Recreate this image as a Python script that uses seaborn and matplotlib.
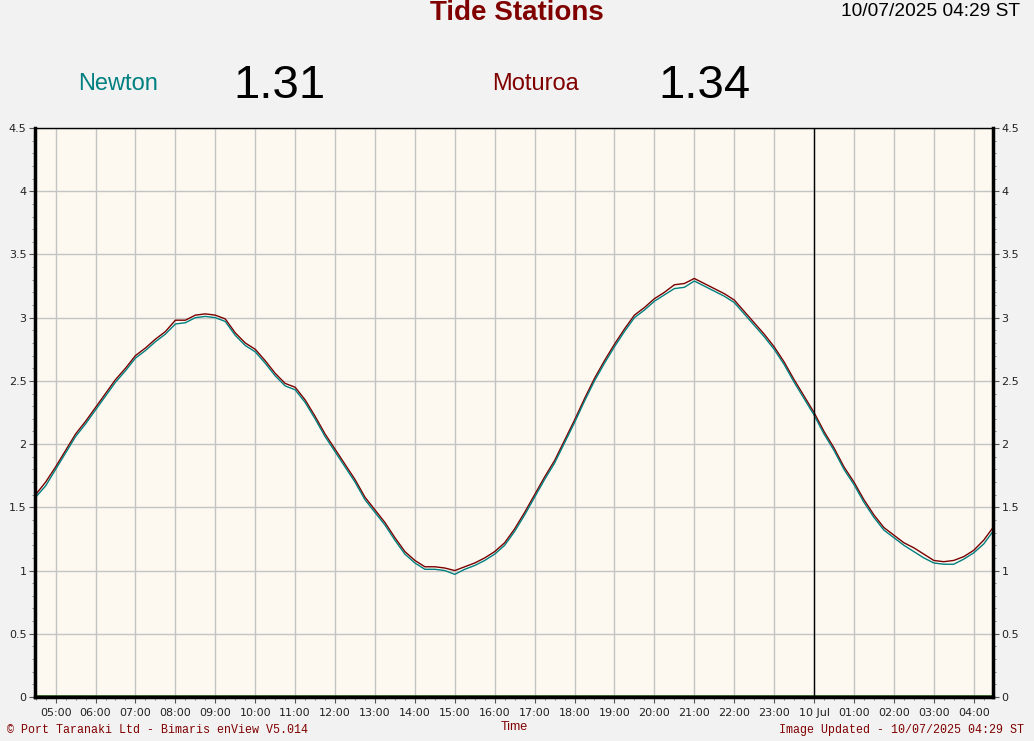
import pandas as pd
import numpy as np
import matplotlib
matplotlib.use("Agg")
import matplotlib.pyplot as plt
import matplotlib.dates as mdates
from matplotlib.ticker import MultipleLocator, FuncFormatter
import seaborn as sns

# readings every 15 minutes, 09 Jul 04:30 -> 10 Jul 04:15, then 04:29
times = list(pd.date_range("2025-07-09 04:30", "2025-07-10 04:15", freq="15min")) + [pd.Timestamp("2025-07-10 04:29")]

moturoa = [1.60, 1.70, 1.82, 1.95, 2.08, 2.18, 2.29, 2.40, 2.51, 2.60, 2.70, 2.76,
           2.83, 2.89, 2.98, 2.98, 3.02, 3.03, 3.02, 2.99, 2.88, 2.80, 2.75, 2.66,
           2.56, 2.48, 2.45, 2.35, 2.22, 2.08, 1.96, 1.84, 1.72, 1.58, 1.48, 1.38,
           1.26, 1.15, 1.08, 1.03, 1.03, 1.02, 1.00, 1.03, 1.06, 1.10, 1.15, 1.22,
           1.33, 1.46, 1.60, 1.74, 1.87, 2.03, 2.19, 2.36, 2.52, 2.66, 2.79, 2.91,
           3.02, 3.08, 3.15, 3.20, 3.26, 3.27, 3.31, 3.27, 3.23, 3.19, 3.14, 3.05,
           2.96, 2.87, 2.77, 2.65, 2.51, 2.38, 2.25, 2.10, 1.97, 1.82, 1.70, 1.56,
           1.44, 1.34, 1.28, 1.22, 1.18, 1.13, 1.08, 1.07, 1.08, 1.11, 1.16, 1.24,
           1.34]

newton = [1.58, 1.67, 1.80, 1.93, 2.06, 2.16, 2.27, 2.38, 2.49, 2.58, 2.68, 2.74,
          2.81, 2.87, 2.95, 2.96, 3.00, 3.01, 3.00, 2.97, 2.86, 2.78, 2.73, 2.64,
          2.54, 2.46, 2.43, 2.33, 2.20, 2.06, 1.94, 1.82, 1.70, 1.56, 1.46, 1.36,
          1.24, 1.13, 1.06, 1.01, 1.01, 1.00, 0.97, 1.01, 1.04, 1.08, 1.13, 1.20,
          1.31, 1.44, 1.58, 1.72, 1.85, 2.01, 2.17, 2.34, 2.50, 2.64, 2.77, 2.89,
          3.00, 3.06, 3.13, 3.18, 3.23, 3.24, 3.29, 3.25, 3.21, 3.17, 3.12, 3.03,
          2.94, 2.85, 2.75, 2.63, 2.49, 2.36, 2.23, 2.08, 1.95, 1.80, 1.68, 1.54,
          1.42, 1.32, 1.26, 1.20, 1.15, 1.10, 1.06, 1.05, 1.05, 1.09, 1.14, 1.21,
          1.31]

other = [0.01] * len(times)

df = pd.DataFrame({"time": times, "Moturoa": moturoa, "Newton": newton, "Other": other})

start = pd.Timestamp("2025-07-09 04:29")
end = pd.Timestamp("2025-07-10 04:29")
midnight = pd.Timestamp("2025-07-10 00:00")

fig = plt.figure(figsize=(10.34, 7.41), dpi=100, facecolor="#f2f2f2")
ax = fig.add_axes([35 / 1034, 44 / 741, 958 / 1034, 569 / 741])
ax.set_facecolor("#fdf9f0")

ax.grid(True, color="#c4c4c4", lw=1, zorder=0)
ax.set_axisbelow(True)

sns.lineplot(data=df, x="time", y="Other", color="#2d6a1b", lw=1.2, ax=ax, clip_on=False)
sns.lineplot(data=df, x="time", y="Moturoa", color="#7a0000", lw=1, ax=ax)
sns.lineplot(data=df, x="time", y="Newton", color="#007f7f", lw=1, ax=ax)
ax.axvline(midnight, color="black", lw=1)

ax.set_xlim(start, end)
ax.set_ylim(0, 4.5)

ax.xaxis.set_major_locator(mdates.HourLocator())
ax.xaxis.set_minor_locator(mdates.MinuteLocator(byminute=[15, 30, 45]))


def fmt(x, pos):
    d = mdates.num2date(x)
    if d.hour == 0 and d.minute == 0:
        return d.strftime("%d Jul")
    return d.strftime("%H:%M")


ax.xaxis.set_major_formatter(FuncFormatter(fmt))
ax.yaxis.set_major_locator(MultipleLocator(0.5))
ax.yaxis.set_minor_locator(MultipleLocator(0.1))
ax.yaxis.set_major_formatter(FuncFormatter(lambda v, p: f"{v:g}"))

ax.tick_params(axis="both", which="major", labelsize=8, length=4, color="#555555",
               labelcolor="#222222", pad=2)
ax.tick_params(axis="both", which="minor", length=2.5, color="#777777")
ax.tick_params(axis="y", which="both", left=True, right=True, labelleft=True, labelright=True)
ax.tick_params(axis="x", pad=4)
ax.set_xlabel("")
ax.set_ylabel("")

for side in ["left", "right", "bottom"]:
    ax.spines[side].set_linewidth(2.5)
    ax.spines[side].set_color("black")
ax.spines["top"].set_linewidth(1)
ax.spines["top"].set_color("black")

sans = ["Liberation Sans", "DejaVu Sans"]
mono = ["Liberation Mono", "DejaVu Sans Mono"]

fig.text(517 / 1034, 1 - 13 / 741, "Tide Stations", ha="center", va="center",
         fontsize=20, fontweight="bold", color="#800000", family=sans)
fig.text(1020 / 1034, 1 - 11 / 741, "10/07/2025 04:29 ST", ha="right", va="center",
         fontsize=13.8, color="black", family=sans)
fig.text(118 / 1034, 1 - 84 / 741, "Newton", ha="center", va="center",
         fontsize=17, color="#008080", family=sans)
fig.text(279 / 1034, 1 - 86 / 741, f"{newton[-1]:.2f}", ha="center", va="center",
         fontsize=34, color="black", family=sans)
fig.text(535 / 1034, 1 - 84 / 741, "Moturoa", ha="center", va="center",
         fontsize=17, color="#800000", family=sans)
fig.text(704 / 1034, 1 - 86 / 741, f"{moturoa[-1]:.2f}", ha="center", va="center",
         fontsize=34, color="black", family=sans)
fig.text(514 / 1034, 1 - 727 / 741, "Time", ha="center", va="center",
         fontsize=9, color="#800000", family=sans)
fig.text(7 / 1034, 1 - 730 / 741, "© Port Taranaki Ltd - Bimaris enView V5.014", ha="left",
         va="center", fontsize=8.4, color="#800000", family=mono)
fig.text(1024 / 1034, 1 - 730 / 741, "Image Updated - 10/07/2025 04:29 ST", ha="right",
         va="center", fontsize=8.4, color="#800000", family=mono)

fig.savefig("out.png", dpi=100, facecolor=fig.get_facecolor())
